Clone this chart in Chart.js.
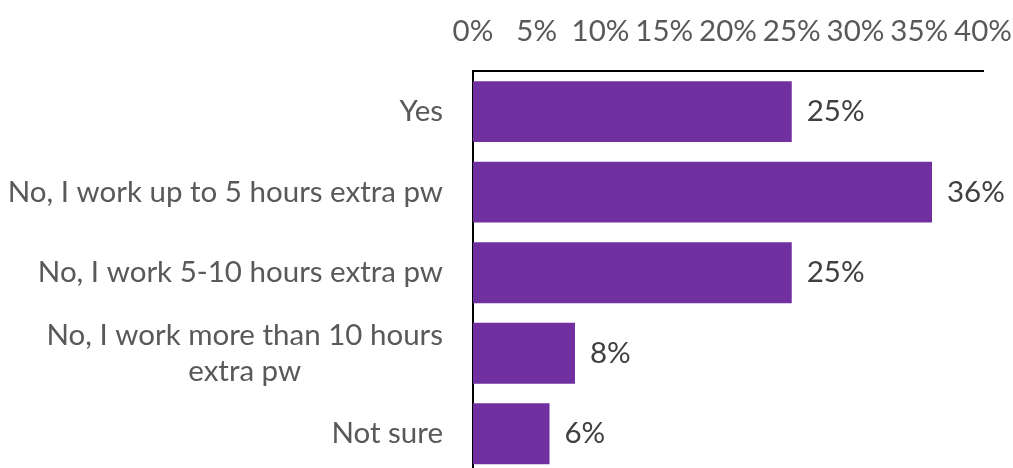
<!DOCTYPE html>
<html>
<head>
<meta charset="utf-8">
<script src="https://cdn.jsdelivr.net/npm/chart.js@4.4.0/dist/chart.umd.min.js"></script>
<style>
  html, body { margin: 0; padding: 0; background: #fff; overflow: hidden; }
  #wrap { width: 1013px; height: 468px; overflow: hidden; }
  #chart { display: block; margin-top: -8px; }
</style>
</head>
<body>
<div id="wrap"><canvas id="chart" width="1013" height="482"></canvas></div>
<script>
const categories = [
  ['Yes'],
  ['No, I work up to 5 hours extra pw'],
  ['No, I work 5-10 hours extra pw'],
  ['No, I work more than 10 hours', 'extra pw'],
  ['Not sure']
];
const values = [25, 36, 25, 8, 6];
const xTicks = [0, 5, 10, 15, 20, 25, 30, 35, 40];

const FONT = 'Lato, "Open Sans", sans-serif';
const FONT_SIZE = 29.5;
const PURPLE = '#7030A0';

// category labels: right edge fixed, multi-line labels centred on each other
const categoryLabels = {
  id: 'categoryLabels',
  afterDraw(chart) {
    const ctx = chart.ctx;
    const y = chart.scales.y;
    const right = chart.chartArea.left - 30;
    const lineH = 36;
    ctx.save();
    ctx.font = FONT_SIZE + 'px ' + FONT;
    ctx.fillStyle = '#595959';
    ctx.textAlign = 'center';
    ctx.textBaseline = 'middle';
    categories.forEach((lines, i) => {
      const cy = y.getPixelForValue(i);
      const w = Math.max(...lines.map(l => ctx.measureText(l).width));
      const cx = right - w / 2;
      const top = cy - (lines.length - 1) * lineH / 2;
      lines.forEach((l, j) => ctx.fillText(l, cx, top + j * lineH));
    });
    ctx.restore();
  }
};

// value labels at the end of each bar
const valueLabels = {
  id: 'valueLabels',
  afterDatasetsDraw(chart) {
    const ctx = chart.ctx;
    const meta = chart.getDatasetMeta(0);
    ctx.save();
    ctx.font = FONT_SIZE + 'px ' + FONT;
    ctx.fillStyle = '#404040';
    ctx.textAlign = 'left';
    ctx.textBaseline = 'middle';
    meta.data.forEach((bar, i) => {
      ctx.fillText(values[i] + '%', bar.x + 15, bar.y);
    });
    ctx.restore();
  }
};

new Chart(document.getElementById('chart'), {
  type: 'bar',
  data: {
    labels: categories.map(c => c.join(' ')),
    datasets: [{
      data: values,
      backgroundColor: PURPLE,
      borderWidth: 0,
      barPercentage: 0.756,
      categoryPercentage: 1
    }]
  },
  options: {
    indexAxis: 'y',
    responsive: false,
    animation: false,
    layout: { padding: { left: 473, right: 30, top: 0, bottom: 0 } },
    plugins: { legend: { display: false }, tooltip: { enabled: false } },
    scales: {
      x: {
        position: 'top',
        min: 0,
        max: 40,
        afterBuildTicks(scale) {
          scale.ticks = xTicks.map(v => ({ value: v }));
        },
        // let the last tick label hang past the plot edge
        afterFit(scale) {
          scale.paddingLeft = 0;
          scale.paddingRight = 0;
        },
        grid: { display: false, drawTicks: false },
        border: { display: true, color: '#000', width: 2 },
        ticks: {
          padding: 22,
          color: '#595959',
          font: { family: FONT, size: FONT_SIZE },
          maxRotation: 0,
          autoSkip: false,
          callback: v => v + '%'
        }
      },
      y: {
        grid: { display: false, drawTicks: false },
        border: { display: true, color: '#000', width: 2 },
        ticks: { display: false }
      }
    }
  },
  plugins: [categoryLabels, valueLabels]
});
</script>
</body>
</html>
